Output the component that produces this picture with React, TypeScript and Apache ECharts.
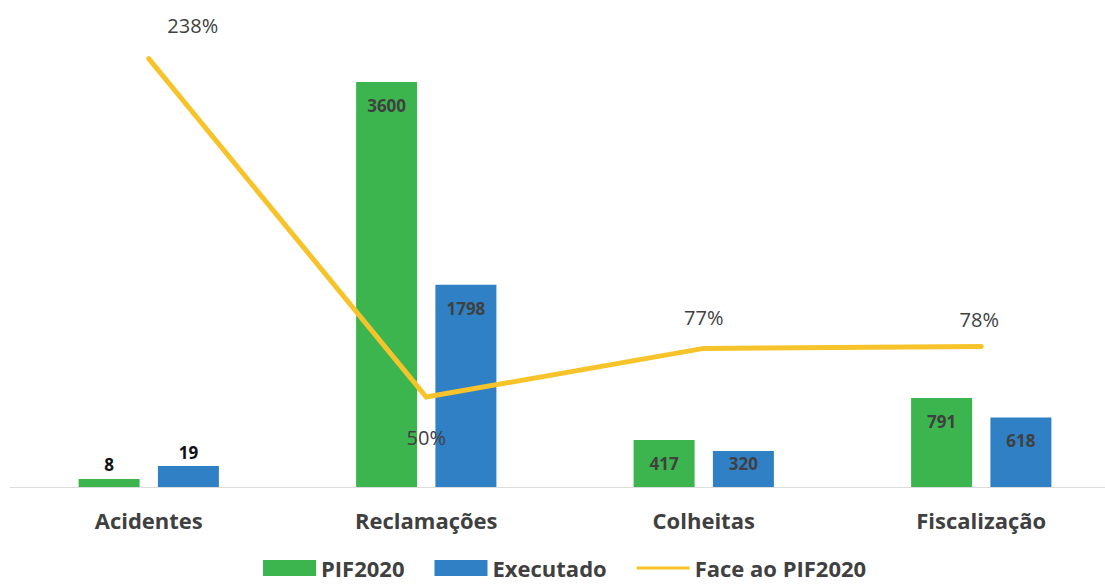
import React, { useEffect, useRef } from "react";
import * as echarts from "echarts";

const categories = ["Acidentes", "Reclamações", "Colheitas", "Fiscalização"];
const planned = [8, 3600, 417, 791];
const executed = [19, 1798, 320, 618];
const ratioPct = [238, 50, 77, 78];
const ratioLabelOffsets: [number, number][] = [
  [44, -33],
  [0, 40],
  [0, -31],
  [-2, -27],
];

const FONT = "'Open Sans', 'Noto Sans', sans-serif";
const GREEN = "#3cb54e";
const BLUE = "#2f80c4";
const GOLD = "#f6c42a";
const TEXT = "#404040";

// thin horizontal stroke inside a 53x16 box, for the line entry of the legend
const LINE_ICON =
  "path://M0,0H0.01V0.01H0Z M0,6.5H53V9.5H0Z M52.99,15.99H53V16H52.99Z";

export default function App() {
  const ref = useRef<HTMLDivElement>(null);

  useEffect(() => {
    if (!ref.current) return;
    const chart = echarts.init(ref.current, null, { renderer: "svg" });

    const barLabel = {
      show: true,
      position: "insideTop" as const,
      distance: 15,
      fontFamily: FONT,
      fontSize: 17,
      fontWeight: "bold" as const,
      color: TEXT,
    };
    const smallLabel = {
      show: true,
      position: "top" as const,
      distance: 5,
      fontFamily: FONT,
      fontSize: 17,
      fontWeight: "bold" as const,
      color: "#111",
    };

    chart.setOption({
      animation: false,
      grid: { left: 10, top: 37, width: 1110, height: 450, containLabel: false },
      legend: {
        top: 557,
        left: 263,
        padding: 0,
        itemWidth: 53,
        itemHeight: 16,
        itemGap: 30,
        textStyle: {
          fontFamily: FONT,
          fontSize: 22,
          lineHeight: 22,
          fontWeight: "bold",
          color: TEXT,
        },
        data: [
          { name: "PIF2020", icon: "rect" },
          { name: "Executado", icon: "rect" },
          { name: "Face ao PIF2020", icon: LINE_ICON, itemStyle: { color: GOLD } },
        ],
      },
      xAxis: {
        type: "category",
        data: categories,
        axisLine: { show: true, lineStyle: { color: "#dcdcdc", width: 1 } },
        axisTick: { show: false },
        axisLabel: {
          margin: 22,
          fontFamily: FONT,
          fontSize: 22,
          fontWeight: "bold",
          color: TEXT,
        },
      },
      yAxis: [
        { type: "value", min: 0, max: 4000, show: false, splitLine: { show: false } },
        { type: "value", min: 0, max: 250, show: false, splitLine: { show: false } },
      ],
      series: [
        {
          name: "PIF2020",
          type: "bar",
          barWidth: 61,
          barGap: "30%",
          barMinHeight: 8,
          itemStyle: { color: GREEN },
          data: planned.map((v, i) => ({
            value: v,
            label: i === 0 ? { ...smallLabel, distance: 6 } : barLabel,
          })),
        },
        {
          name: "Executado",
          type: "bar",
          barWidth: 61,
          barGap: "30%",
          barMinHeight: 21,
          itemStyle: { color: BLUE },
          data: executed.map((v, i) => ({
            value: v,
            label: i === 0 ? smallLabel : i === 2 ? { ...barLabel, distance: 4 } : barLabel,
          })),
        },
        {
          name: "Face ao PIF2020",
          type: "line",
          yAxisIndex: 1,
          symbol: "circle",
          symbolSize: 0,
          showSymbol: true,
          lineStyle: { color: GOLD, width: 5, cap: "round", join: "miter" },
          itemStyle: { color: GOLD },
          z: 5,
          data: ratioPct.map((v, i) => ({
            value: v,
            label: {
              show: true,
              position: "inside",
              offset: ratioLabelOffsets[i],
              formatter: "{c}%",
              fontFamily: FONT,
              fontSize: 20,
              color: TEXT,
            },
          })),
        },
      ],
    });

    return () => chart.dispose();
  }, []);

  return (
    <div
      ref={ref}
      style={{ position: "fixed", left: 0, top: 0, width: 1125, height: 585, background: "#fff" }}
    />
  );
}
